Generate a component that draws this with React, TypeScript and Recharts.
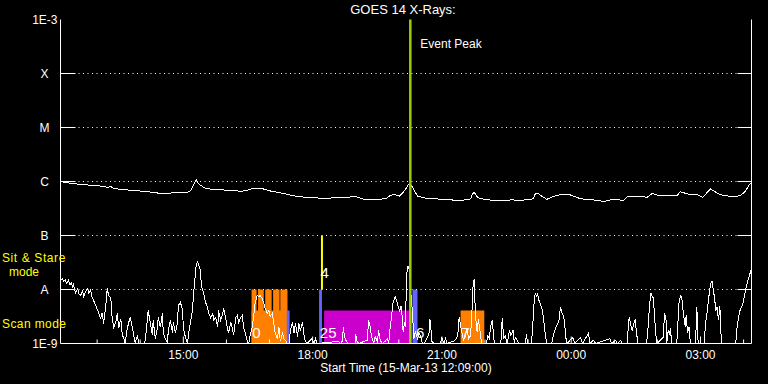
import React from 'react';
import {
  ComposedChart,
  Line,
  XAxis,
  YAxis,
  ReferenceArea,
  ReferenceLine,
  Scatter,
} from 'recharts';

const FONT = '"Liberation Sans", Arial, sans-serif';

// ---- time axis: minutes after plot start (15-Mar-13 12:09:00) ----
const startMinuteOfDay = 12 * 60 + 9;
const timeDomain: [number, number] = [0, 962];
const hourTicks = [51, 111, 171, 231, 291, 351, 411, 471, 531, 591, 651, 711, 771, 831, 891, 951];
const labeledTicks = [171, 351, 531, 711, 891];

// ---- flux axis (W/m^2, log) ----
const levelTicks = [1e-9, 1e-8, 1e-7, 1e-6, 1e-5, 1e-4, 1e-3];
const levelNames = ['1E-9', 'A', 'B', 'C', 'M', 'X', '1E-3'];
const gridLevels = [1e-8, 1e-7, 1e-6, 1e-5, 1e-4];

// ---- GOES long channel: [minute, log10 flux] ----
const longChannel: [number, number][] = [
  [0, -6.0], [13, -6.03], [25, -6.05], [42, -6.07], [61, -6.09], [65, -6.11], [70, -6.09], [74, -6.13],
  [88, -6.15], [122, -6.19], [139, -6.22], [160, -6.21], [177, -6.2], [181, -6.17], [184, -6.09],
  [187, -6.02], [189, -5.97], [192, -6.04], [195, -6.07], [202, -6.13], [216, -6.15], [232, -6.16],
  [251, -6.18], [258, -6.17], [264, -6.14], [270, -6.13], [276, -6.12], [283, -6.14], [290, -6.17],
  [306, -6.21], [320, -6.25], [331, -6.28], [348, -6.3], [367, -6.31], [390, -6.3], [411, -6.28],
  [418, -6.31], [423, -6.33], [441, -6.34], [454, -6.31], [459, -6.26], [464, -6.24], [472, -6.27],
  [477, -6.2], [482, -6.11], [484, -6.06], [487, -6.04], [491, -6.13], [494, -6.2], [497, -6.27],
  [509, -6.31], [533, -6.33], [553, -6.35], [565, -6.34], [571, -6.32], [573, -6.24], [576, -6.2],
  [580, -6.28], [583, -6.31], [595, -6.34], [614, -6.36], [627, -6.34], [640, -6.35], [654, -6.33],
  [658, -6.32], [661, -6.23], [665, -6.22], [671, -6.28], [677, -6.33], [686, -6.28], [696, -6.24],
  [710, -6.25], [724, -6.32], [742, -6.34], [756, -6.37], [770, -6.33], [784, -6.35], [789, -6.28],
  [807, -6.28], [817, -6.29], [824, -6.22], [831, -6.25], [845, -6.25], [859, -6.25], [863, -6.19],
  [873, -6.23], [887, -6.25], [894, -6.29], [905, -6.14], [915, -6.22], [923, -6.26], [937, -6.28],
  [947, -6.26], [954, -6.17], [960, -6.04], [962, -6.02],
];

// ---- GOES short channel: [minute, log10 flux] ----
const shortChannel: [number, number][] = [
  [0, -7.83], [3, -7.8], [4, -7.85], [7, -7.81], [8, -7.89], [11, -7.83], [13, -7.91], [15, -7.87],
  [17, -7.96], [18, -7.91], [21, -8.06], [24, -7.98], [25, -8.07], [28, -8.11], [31, -8.02], [32, -8.15],
  [35, -8.04], [38, -7.98], [39, -8.07], [42, -8.0], [43, -8.11], [46, -8.2], [49, -8.3], [52, -8.39],
  [53, -8.44], [56, -8.54], [58, -8.43], [60, -8.63], [63, -8.3], [65, -7.98], [67, -8.11], [70, -8.15],
  [72, -8.54], [74, -8.7], [77, -8.61], [79, -8.44], [81, -8.72], [84, -8.54], [86, -8.85], [88, -8.89],
  [90, -9], [93, -8.72], [95, -8.61], [97, -8.52], [100, -8.7], [102, -8.85], [104, -9], [107, -8.85],
  [109, -9], [116, -9], [118, -8.94], [121, -8.54], [122, -8.39], [125, -8.61], [128, -8.85], [129, -8.57],
  [132, -8.91], [135, -8.7], [136, -8.52], [139, -8.7], [142, -8.44], [143, -8.8], [146, -8.91], [149, -9],
  [150, -8.76], [153, -8.57], [156, -8.81], [157, -8.61], [160, -8.8], [163, -8.61], [164, -8.3],
  [167, -8.24], [170, -8.39], [171, -8.72], [174, -8.89], [177, -9], [178, -8.85], [181, -8.61],
  [184, -8.35], [185, -8.11], [188, -7.69], [189, -7.54], [191, -7.48], [192, -7.54], [195, -7.65],
  [196, -7.93], [199, -8.06], [202, -8.24], [205, -8.35], [206, -8.43], [209, -8.52], [212, -8.44],
  [213, -8.57], [216, -8.52], [219, -8.7], [220, -8.39], [223, -8.57], [226, -8.44], [227, -8.35],
  [230, -8.52], [232, -8.7], [234, -8.8], [237, -8.61], [239, -8.7], [241, -8.85], [244, -8.52],
  [246, -8.48], [248, -8.61], [251, -8.52], [253, -8.48], [255, -8.7], [258, -8.85], [260, -8.96],
  [262, -9], [264, -8.85], [267, -8.7], [269, -8.48], [271, -8.24], [274, -8.11], [276, -8.13],
  [278, -8.11], [281, -8.17], [283, -8.26], [285, -8.35], [288, -8.44], [290, -8.39], [292, -8.5],
  [295, -8.44], [297, -8.63], [299, -8.81], [302, -8.91], [304, -8.69], [306, -8.96], [309, -8.81],
  [311, -8.91], [313, -8.94], [316, -9], [318, -9], [320, -8.76], [323, -8.61], [325, -8.81], [327, -8.63],
  [330, -8.87], [332, -8.63], [334, -8.76], [337, -8.61], [339, -8.85], [341, -8.96], [343, -9],
  [350, -8.91], [353, -9], [355, -8.91], [357, -9],
  [387, -8.96], [390, -9], [392, -8.96], [394, -8.69], [395, -8.85], [397, -8.94], [401, -9], [410, -9],
  [411, -8.83], [413, -8.96], [415, -9], [427, -8.94], [429, -8.57], [431, -8.69], [432, -8.78],
  [434, -8.91], [436, -9], [438, -8.87], [441, -8.96], [443, -8.76], [445, -8.94], [448, -9], [452, -8.96],
  [455, -8.91], [457, -9], [458, -8.81], [460, -8.61], [462, -8.35], [463, -8.24], [465, -8.17],
  [466, -8.13], [468, -8.2], [469, -8.26], [471, -8.35], [472, -8.41], [474, -8.3], [476, -8.54],
  [477, -8.78], [479, -8.61], [480, -8.7], [482, -7.74], [483, -7.59], [484, -7.57], [486, -7.65],
  [487, -7.89], [488, -8.11], [490, -8.43], [492, -8.91], [494, -8.78], [497, -8.91], [499, -8.81],
  [501, -8.85], [504, -9],
  [506, -9], [510, -8.91], [513, -8.81], [514, -8.54], [515, -8.61], [517, -8.96], [520, -9], [529, -9],
  [531, -8.89], [534, -9], [536, -8.89], [538, -9], [547, -8.96], [551, -8.91], [553, -8.85], [555, -8.52],
  [557, -8.67], [559, -8.8], [561, -8.94], [563, -8.89], [566, -8.72], [568, -8.91], [571, -8.85],
  [573, -8.35], [574, -7.98], [576, -7.8], [577, -8.24], [579, -8.72], [580, -8.78], [582, -8.54],
  [583, -8.69], [585, -8.85], [586, -9], [593, -9], [595, -8.85], [597, -8.91], [599, -8.67], [601, -8.57],
  [603, -8.85], [604, -9], [613, -9], [615, -8.52], [617, -8.91], [619, -8.85], [622, -9], [625, -8.76],
  [627, -8.85], [630, -8.76], [632, -9], [633, -8.89], [636, -8.94], [638, -9], [647, -9], [649, -8.83],
  [650, -9], [655, -9], [657, -8.8], [659, -8.3], [661, -8.06], [663, -8.13], [664, -8.06], [666, -8.2],
  [668, -8.26], [671, -8.39], [673, -8.61], [675, -8.85], [677, -9], [684, -9], [686, -8.85], [689, -8.72],
  [691, -8.67], [694, -8.57], [696, -8.33], [698, -8.43], [700, -8.48], [702, -8.63], [703, -8.85],
  [705, -9],
  [713, -8.89], [716, -9], [724, -8.89], [727, -9], [735, -8.81], [737, -9], [742, -8.94], [745, -9],
  [765, -8.91], [767, -9], [773, -8.94], [775, -9], [780, -8.94], [782, -9], [789, -9], [791, -8.57],
  [792, -8.52], [794, -8.67], [796, -8.76], [798, -8.63], [800, -8.57], [802, -8.81], [804, -9], [816, -9],
  [818, -8.7], [820, -8.3], [822, -8.06], [823, -8.11], [825, -8.15], [827, -8.44], [828, -8.7], [830, -9],
  [839, -8.89], [841, -8.44], [843, -8.57], [844, -9], [846, -8.76], [848, -8.85], [849, -8.72], [851, -9],
  [858, -9], [861, -8.26], [863, -8.11], [865, -8.15], [866, -8.31], [868, -8.52], [870, -8.7],
  [871, -8.48], [873, -8.81], [875, -8.7], [877, -9], [884, -9], [886, -8.33], [887, -8.91], [889, -9],
  [896, -9], [898, -8.63], [900, -8.44], [902, -8.2], [905, -7.89], [907, -7.85], [909, -8.02],
  [911, -8.2], [912, -8.39], [914, -8.33], [916, -8.57], [918, -8.3], [919, -8.76], [921, -9], [940, -9],
  [942, -8.69], [944, -8.52], [946, -8.39], [950, -8.26], [953, -8.07], [955, -7.93], [957, -7.83],
  [960, -7.7], [962, -7.61],
];

// ---- observation blocks ----
const obsStart = [266, 266, 275, 285, 296, 306, 315, 360, 367, 490, 557];
const obsEnd = [316, 273, 283, 294, 305, 316, 319, 364, 489, 497, 590];
const obsMode = ['scan', 'stare', 'stare', 'stare', 'stare', 'stare', 'scan', 'stare', 'scan', 'stare', 'scan'];
const obsInstrument = ['I1', 'I1', 'I1', 'I1', 'I1', 'I1', 'I2', 'I2', 'I3', 'I2', 'I1'];
const modeTopLog: Record<string, number> = { scan: -8.39, stare: -8 };
const instrumentColor: Record<string, string> = { I1: '#ff8000', I2: '#6464ff', I3: '#cc00cc' };

const eventPeakTime = 487;
const stareMarkTime = 364;
const stareMarkLog: [number, number] = [-8, -7];

const labelTimes = [267, 362, 361, 495, 558];
const labelLog = [-8.81, -7.69, -8.81, -8.81, -8.81];
const labelTexts = ['0', '4', '25', '6', '7'];

// ---- derived tables ----
const longData = longChannel.map(([t, e]) => ({ t, v: 10 ** e }));
const shortData = shortChannel.map(([t, e]) => ({ t, v: 10 ** e }));
const labelData = labelTimes.map((t, i) => ({ t, v: 10 ** labelLog[i], text: labelTexts[i] }));

const fmtClock = (m: number) => {
  const total = (startMinuteOfDay + m) % (24 * 60);
  const h = Math.floor(total / 60);
  const mm = Math.round(total % 60);
  return `${String(h).padStart(2, '0')}:${String(mm).padStart(2, '0')}`;
};

const levelIndex = (v: number) =>
  levelTicks.findIndex((l) => Math.abs(Math.log10(l) - Math.log10(v)) < 0.01);

const BottomTick = (props: any) => {
  const { x, y, payload } = props;
  const major = labeledTicks.includes(payload.value);
  return (
    <g>
      <line x1={x} x2={x} y1={y} y2={y - (major ? 7 : 4)} stroke="#fff" strokeWidth={1} />
      {major && (
        <text x={x} y={y + 15} textAnchor="middle" fill="#fff" fontSize={12} fontFamily={FONT}>
          {fmtClock(payload.value)}
        </text>
      )}
    </g>
  );
};

const TopTick = (props: any) => {
  const { x, y, payload } = props;
  const major = labeledTicks.includes(payload.value);
  return <line x1={x} x2={x} y1={y} y2={y + (major ? 7 : 4)} stroke="#fff" strokeWidth={1} />;
};

const LeftTick = (props: any) => {
  const { x, y, payload } = props;
  const idx = levelIndex(payload.value);
  const name = levelNames[idx] ?? '';
  const letter = name.length === 1;
  return (
    <g>
      {letter && <line x1={x} x2={x + 15} y1={y} y2={y} stroke="#fff" strokeWidth={1} />}
      <text
        x={letter ? x - 16 : x - 3}
        y={y + 4}
        textAnchor={letter ? 'middle' : 'end'}
        fill="#fff"
        fontSize={12}
        fontFamily={FONT}
      >
        {name}
      </text>
    </g>
  );
};

const RightTick = (props: any) => {
  const { x, y, payload } = props;
  const idx = levelIndex(payload.value);
  const letter = (levelNames[idx] ?? '').length === 1;
  if (!letter) return <g />;
  return <line x1={x} x2={x - 14} y1={y} y2={y} stroke="#fff" strokeWidth={1} />;
};

const LabelShape = (props: any) => {
  const { cx, cy, payload } = props;
  return (
    <text x={cx} y={cy + 5} fill="#fff" fontSize={15} fontFamily={FONT} textAnchor="start">
      {payload.text}
    </text>
  );
};

const EventLabel = (props: any) => {
  const vb = props.viewBox || { x: 0, y: 0 };
  return (
    <text x={vb.x + 10} y={vb.y + 28} fill="#fff" fontSize={12} fontFamily={FONT}>
      Event Peak
    </text>
  );
};

export default function App() {
  return (
    <div
      style={{
        position: 'absolute',
        left: 0,
        top: 0,
        width: 768,
        height: 384,
        background: '#000',
        fontFamily: FONT,
        overflow: 'hidden',
      }}
    >
      <ComposedChart width={768} height={384} margin={{ top: 19.5, right: 0, bottom: 0, left: 0.5 }}>
        <XAxis
          xAxisId={0}
          dataKey="t"
          type="number"
          domain={timeDomain}
          allowDataOverflow
          ticks={hourTicks}
          interval={0}
          orientation="bottom"
          height={40.5}
          tickSize={0}
          tickMargin={0}
          tickLine={false}
          axisLine={{ stroke: '#fff', strokeWidth: 1 }}
          tick={<BottomTick />}
          label={{
            value: 'Start Time (15-Mar-13 12:09:00)',
            position: 'insideBottom',
            offset: 12,
            fill: '#fff',
            fontSize: 12,
            fontFamily: FONT,
          }}
        />
        <XAxis
          xAxisId="top"
          dataKey="t"
          type="number"
          domain={timeDomain}
          allowDataOverflow
          ticks={hourTicks}
          interval={0}
          orientation="top"
          height={0}
          tickSize={0}
          tickMargin={0}
          tickLine={false}
          axisLine={{ stroke: '#fff', strokeWidth: 1 }}
          tick={<TopTick />}
        />
        <YAxis
          yAxisId={0}
          scale="log"
          domain={[1e-9, 1e-3]}
          allowDataOverflow
          ticks={levelTicks}
          interval={0}
          width={60}
          tickSize={0}
          tickMargin={0}
          tickLine={false}
          axisLine={{ stroke: '#fff', strokeWidth: 1 }}
          tick={<LeftTick />}
        />
        <YAxis
          yAxisId="right"
          orientation="right"
          scale="log"
          domain={[1e-9, 1e-3]}
          allowDataOverflow
          ticks={levelTicks}
          interval={0}
          width={16.5}
          tickSize={0}
          tickMargin={0}
          tickLine={false}
          axisLine={{ stroke: '#fff', strokeWidth: 1 }}
          tick={<RightTick />}
        />

        {gridLevels.map((lv) => (
          <ReferenceLine key={lv} y={lv} stroke="#fff" strokeWidth={1} strokeDasharray="1 3.5" />
        ))}

        {obsStart.map((s, i) => (
          <ReferenceArea
            key={`obs-${i}`}
            x1={s}
            x2={obsEnd[i]}
            y1={1e-9}
            y2={10 ** modeTopLog[obsMode[i]]}
            fill={instrumentColor[obsInstrument[i]]}
            fillOpacity={1}
            stroke="none"
            ifOverflow="hidden"
          />
        ))}

        <Line
          data={longData}
          dataKey="v"
          type="linear"
          stroke="#fff"
          strokeWidth={1}
          shapeRendering="crispEdges"
          dot={false}
          activeDot={false}
          isAnimationActive={false}
        />
        <Line
          data={shortData}
          dataKey="v"
          type="linear"
          stroke="#fff"
          strokeWidth={1}
          shapeRendering="crispEdges"
          dot={false}
          activeDot={false}
          isAnimationActive={false}
        />

        <ReferenceLine
          segment={[
            { x: stareMarkTime, y: 10 ** stareMarkLog[0] },
            { x: stareMarkTime, y: 10 ** stareMarkLog[1] },
          ]}
          stroke="#ffff00"
          strokeWidth={2}
        />
        <ReferenceLine x={eventPeakTime} stroke="#9acd00" strokeWidth={2.5} label={<EventLabel />} />

        <Scatter data={labelData} dataKey="v" shape={<LabelShape />} isAnimationActive={false} />
      </ComposedChart>

      <svg
        width={768}
        height={384}
        style={{ position: 'absolute', left: 0, top: 0, pointerEvents: 'none' }}
      >
        <text x={403} y={14} textAnchor="middle" fill="#fff" fontSize={13} fontFamily={FONT}>
          GOES 14 X-Rays:
        </text>
        <text x={2} y={262} fill="#ffff00" fontSize={12} letterSpacing={0.6} fontFamily={FONT}>
          Sit &amp; Stare
        </text>
        <text x={24} y={276} textAnchor="middle" fill="#ffff00" fontSize={12} fontFamily={FONT}>
          mode
        </text>
        <text x={2} y={328} fill="#ffff00" fontSize={12} letterSpacing={0.4} fontFamily={FONT}>
          Scan mode
        </text>
      </svg>
    </div>
  );
}
